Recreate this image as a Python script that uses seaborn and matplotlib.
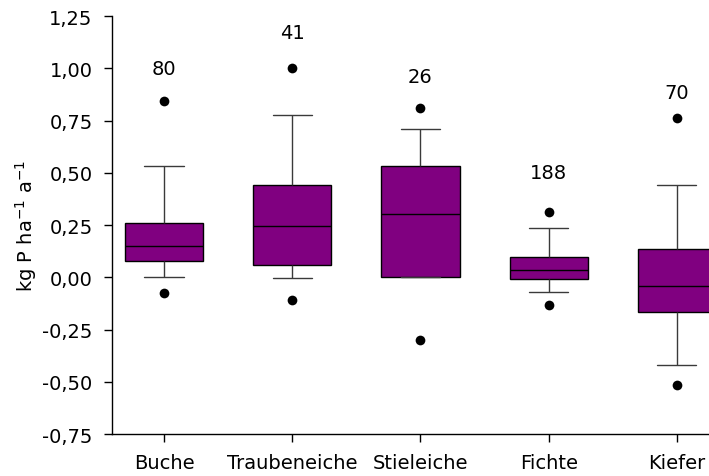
import numpy as np
import pandas as pd
import matplotlib
matplotlib.use("Agg")
import matplotlib.pyplot as plt
import seaborn as sns

# Werte (kg P ha-1 a-1)
baumarten = ["Buche", "Traubeneiche", "Stieleiche", "Fichte", "Kiefer"]
anzahl = [80, 41, 26, 188, 70]
whisker_unten = [0.003, -0.003, 0.000, -0.069, -0.420]
quartil_1 = [0.078, 0.057, 0.000, -0.008, -0.164]
median = [0.150, 0.246, 0.303, 0.035, -0.043]
quartil_3 = [0.262, 0.442, 0.534, 0.099, 0.137]
whisker_oben = [0.533, 0.777, 0.711, 0.238, 0.443]
perz_5 = [-0.073, -0.110, -0.301, -0.134, -0.517]
perz_95 = [0.844, 1.003, 0.809, 0.313, 0.762]
label_hoehe = [1.00, 1.17, 0.96, 0.50, 0.885]

y_ticks = [-0.75, -0.5, -0.25, 0.0, 0.25, 0.5, 0.75, 1.0, 1.25]

sns.set_style("ticks")
plt.rcParams["font.family"] = ["DejaVu Sans"]
plt.rcParams["mathtext.default"] = "regular"
plt.rcParams["text.color"] = "black"
plt.rcParams["axes.labelcolor"] = "black"

# 5 Werte je Art -> Quartile / Min / Max entsprechen genau den Boxplot-Kennwerten
rows = []
for i, art in enumerate(baumarten):
    for v in [whisker_unten[i], quartil_1[i], median[i], quartil_3[i], whisker_oben[i]]:
        rows.append({"Art": art, "Wert": v})
df = pd.DataFrame(rows)
df_punkte = pd.DataFrame({"Art": baumarten * 2, "Wert": perz_5 + perz_95})

fig = plt.figure(figsize=(7.09, 4.77), dpi=100)
ax = fig.add_axes([0.158, 0.088, 0.87, 0.876])

sns.boxplot(data=df, x="Art", y="Wert", order=baumarten, ax=ax,
            color="#800080", saturation=1, width=0.61, whis=(0, 100),
            linecolor="black", linewidth=1.0, showfliers=False,
            whiskerprops=dict(color="#3a3a3a"), capprops=dict(color="#3a3a3a"),
            medianprops=dict(color="black"))
sns.stripplot(data=df_punkte, x="Art", y="Wert", order=baumarten, ax=ax,
              jitter=False, color="black", size=7, zorder=5)

for i, n in enumerate(anzahl):
    ax.text(i, label_hoehe[i], str(n), ha="center", va="center", fontsize=14, color="black")

ax.set_ylim(-0.75, 1.25)
ax.set_xlim(-0.405, 4.405)
ax.set_yticks(y_ticks)
ax.set_yticklabels([f"{t:.2f}".replace(".", ",") for t in y_ticks])
ax.tick_params(axis="both", labelsize=14, length=6, width=1, direction="out",
               colors="black", pad=8)
ax.set_xlabel("")
ax.set_ylabel("kg P ha$^{-1}$ a$^{-1}$", fontsize=14, labelpad=2)
sns.despine(ax=ax)
for s in ["left", "bottom"]:
    ax.spines[s].set_linewidth(1.0)
    ax.spines[s].set_color("black")

fig.savefig("out.png", dpi=100)
